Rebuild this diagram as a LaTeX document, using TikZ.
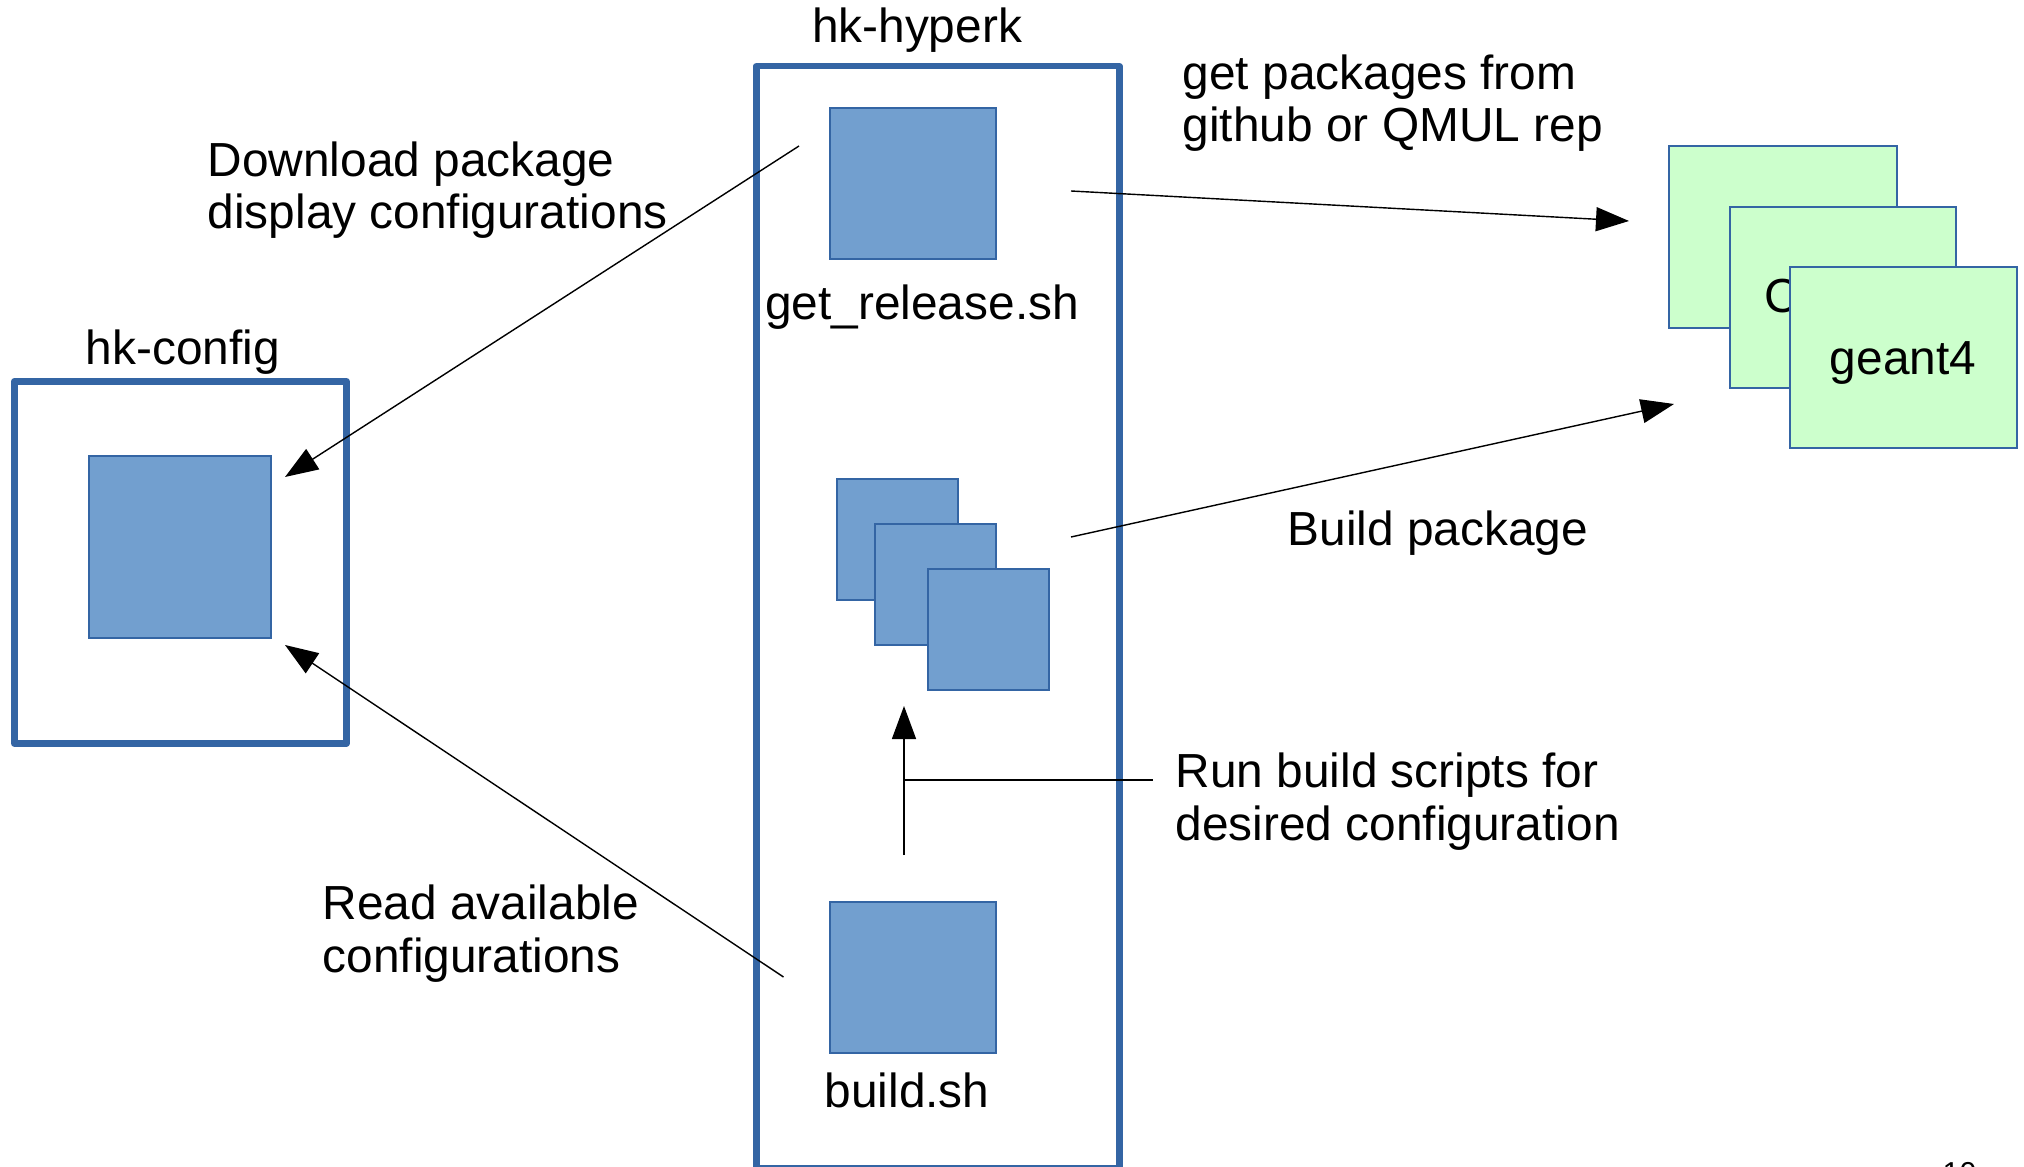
\documentclass[tikz,border=0pt]{standalone}
\usepackage{fontspec}
\setmainfont{Liberation Sans}
\definecolor{scriptBlue}{RGB}{114,159,207}
\definecolor{edgeBlue}{RGB}{52,101,164}
\definecolor{pkgGreen}{RGB}{204,255,204}
\usepackage{tikz}
\usetikzlibrary{arrows.meta,positioning}

\tikzset{
  repobox/.style={draw=edgeBlue,line width=1.85pt,line join=round,inner sep=0pt,anchor=north west},
  script/.style={fill=scriptBlue,draw=edgeBlue,line width=0.5pt,inner sep=0pt,anchor=north west},
  pkg/.style={fill=pkgGreen,draw=edgeBlue,line width=0.5pt,inner sep=0pt,anchor=north west},
  txt/.style={inner sep=0pt,font=\fontsize{13.6}{14.8}\selectfont},
  note/.style={txt,align=left,anchor=base west},
  flow/.style={line width=0.4pt,-{Triangle[length=3.3mm,width=2.4mm]}}
}

\begin{document}
\begin{tikzpicture}[x=0.01cm,y=-0.01cm]
\useasboundingbox (0,0) rectangle (2024,1167);

% the two repositories
\node[repobox,minimum width=3.32cm,minimum height=3.62cm] (cfg) at (11,378) {};
\node[txt,anchor=base] (cfgname) at (183,365) {hk-config};
\node[repobox,minimum width=3.63cm,minimum height=11.01cm] (hyperk) at (753,63) {};
\node[txt,anchor=base] (hyperkname) at (917,43) {hk-hyperk};

% scripts and config files
\node[script,minimum size=1.82cm] (cfgsq) at (88,455) {};
\node[script,minimum width=1.66cm,minimum height=1.51cm] (relsq) at (829,107) {};
\node[txt,anchor=base] (relname) at (922,320) {get\_release.sh};
\node[script,minimum size=1.21cm] (bld1) at (836,478) {};
\node[script,minimum size=1.21cm] (bld2) at (874,523) {};
\node[script,minimum size=1.21cm] (bld3) at (927,568) {};
\node[script,minimum width=1.66cm,minimum height=1.51cm] (buildsq) at (829,901) {};
\node[txt,anchor=base] (buildname) at (907,1107) {build.sh};

% external packages
\node[pkg,minimum width=2.28cm,minimum height=1.82cm] (pkg1) at (1668,145) {};
\node[pkg,minimum width=2.26cm,minimum height=1.81cm] (pkg2) at (1729,206) {};
\node[txt,anchor=base west] (pkg2name) at (1764,313) {C};
\node[pkg,minimum width=2.27cm,minimum height=1.81cm] (pkg3) at (1789,266) {};
\node[txt,anchor=base] (pkg3name) at (1903,375) {geant4};

% notes (base = last line)
\node[note] (dlnote) at (207,229) {Download package\\display configurations};
\node[note] (readnote) at (322,972) {Read available\\configurations};
\node[note] (getnote) at (1182,142) {get packages from\\github or QMUL rep};
\node[note] (bldnote) at (1287,545) {Build package};
\node[note] (runnote) at (1175,840) {Run build scripts for\\desired configuration};

% arrows
\coordinate (dlfrom) at (799,146);
\coordinate (dlto) at (285,477);
\coordinate (readfrom) at (783.5,977);
\coordinate (readto) at (285,645);
\coordinate (getfrom) at (1071,191);
\coordinate (getto) at (1629,221);
\coordinate (bldfrom) at (1071,537);
\coordinate (bldto) at (1674,404);
\coordinate (runfrom) at (904,855);
\coordinate (runto) at (904,706);
\coordinate (runjoin) at (904,780);
\coordinate (runend) at (1153,780);
\draw[flow] (dlfrom) -- (dlto);
\draw[flow] (readfrom) -- (readto);
\draw[flow] (getfrom) -- (getto);
\draw[flow] (bldfrom) -- (bldto);
\draw[flow] (runfrom) -- (runto);
\draw[line width=0.4pt] (runjoin) -- (runend);

% slide number, cut by the page edge
\begin{scope}
  \clip (0,0) rectangle (2024,1167);
  \node[inner sep=0pt,anchor=north west,font=\fontsize{8.6}{10}\selectfont] (pagenum) at (1942,1162) {10};
\end{scope}
\end{tikzpicture}
\end{document}
